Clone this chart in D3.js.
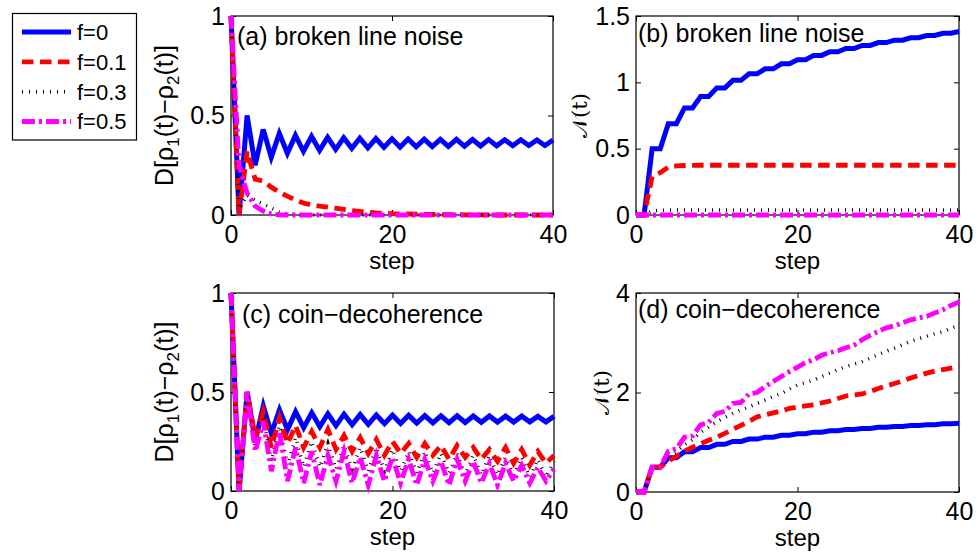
<!DOCTYPE html>
<html>
<head>
<meta charset="utf-8">
<script src="https://cdn.jsdelivr.net/npm/d3@7"></script>
<style>
body { margin: 0; background: #fff; }
svg { display: block; font-family: "Liberation Sans", Arial, sans-serif; }
</style>
</head>
<body>
<div id="chart"></div>
<script>
// step axis, shared by all four panels
const steps = [0, 1, 2, 3, 4, 5, 6, 7, 8, 9, 10, 11, 12, 13, 14, 15, 16, 17, 18, 19, 20,
  21, 22, 23, 24, 25, 26, 27, 28, 29, 30, 31, 32, 33, 34, 35, 36, 37, 38, 39, 40]
const legendNames = ['f=0', 'f=0.1', 'f=0.3', 'f=0.5']

// f=0 is the same (noise free) walk in both rows
const cleanD = [1, 0, 0.5, 0.25, 0.43, 0.29, 0.41, 0.31, 0.4, 0.32, 0.395, 0.325, 0.39, 0.33, 0.388, 0.335,
  0.386, 0.337, 0.384, 0.34, 0.383, 0.341, 0.382, 0.343, 0.381, 0.344, 0.38, 0.345, 0.38, 0.346,
  0.379, 0.347, 0.379, 0.348, 0.378, 0.348, 0.378, 0.349, 0.377, 0.349, 0.377]
const cleanN = [0, 0, 0.5, 0.5, 0.688, 0.688, 0.807, 0.807, 0.893, 0.893, 0.958, 0.958, 1.015, 1.015,
  1.064, 1.064, 1.102, 1.102, 1.14, 1.14, 1.17, 1.17, 1.203, 1.203, 1.23, 1.23, 1.255, 1.255,
  1.278, 1.278, 1.3, 1.3, 1.318, 1.318, 1.336, 1.336, 1.353, 1.353, 1.37, 1.37, 1.383]

// (a) broken line noise, trace distance
const blnD01 = [1, 0, 0.32, 0.18, 0.17, 0.14, 0.115, 0.095, 0.075, 0.06, 0.05, 0.045, 0.04, 0.034, 0.028,
  0.022, 0.018, 0.014, 0.011, 0.009, 0.007, 0.006, 0.005, 0.004, 0.003, 0.003, 0.002, 0.002, 0.002,
  0.001, 0.001, 0.001, 0.001, 0, 0, 0, 0, 0, 0, 0, 0]
const blnD03 = [1, 0.03, 0.1, 0.075, 0.055, 0.035, 0.015, 0.006, 0.002, 0.001, 0, 0, 0, 0, 0, 0, 0, 0, 0, 0,
  0, 0, 0, 0, 0, 0, 0, 0, 0, 0, 0, 0, 0, 0, 0, 0, 0, 0, 0, 0, 0]
const blnD05 = [1, 0.25, 0.11, 0.045, 0.02, 0.005, 0.001, 0, 0, 0, 0, 0, 0, 0, 0, 0, 0, 0, 0, 0,
  0, 0, 0, 0, 0, 0, 0, 0, 0, 0, 0, 0, 0, 0, 0, 0, 0, 0, 0, 0, 0]

// (b) broken line noise, non-Markovianity measure
const blnN01 = [0, 0, 0.29, 0.32, 0.36, 0.37, 0.373, 0.374, 0.375, 0.375, 0.375, 0.375, 0.375, 0.375,
  0.375, 0.375, 0.375, 0.375, 0.375, 0.375, 0.375, 0.375, 0.375, 0.375, 0.375, 0.375, 0.375, 0.375,
  0.375, 0.375, 0.375, 0.375, 0.375, 0.375, 0.375, 0.375, 0.375, 0.375, 0.375, 0.375, 0.375]
const blnN03 = [0, 0, 0.03, 0.035, 0.037, 0.038, 0.038, 0.038, 0.038, 0.038, 0.038, 0.038, 0.038, 0.038,
  0.038, 0.038, 0.038, 0.038, 0.038, 0.038, 0.038, 0.038, 0.038, 0.038, 0.038, 0.038, 0.038, 0.038,
  0.038, 0.038, 0.038, 0.038, 0.038, 0.038, 0.038, 0.038, 0.038, 0.038, 0.038, 0.038, 0.038]
const blnN05 = [0, 0, 0, 0, 0, 0, 0, 0, 0, 0, 0, 0, 0, 0, 0, 0, 0, 0, 0, 0,
  0, 0, 0, 0, 0, 0, 0, 0, 0, 0, 0, 0, 0, 0, 0, 0, 0, 0, 0, 0, 0]

// (c) coin decoherence, trace distance
const cdD01 = [1, 0, 0.5, 0.27, 0.4, 0.22, 0.37, 0.24, 0.33, 0.22, 0.3, 0.22, 0.31, 0.21, 0.28, 0.2,
  0.27, 0.19, 0.26, 0.18, 0.25, 0.19, 0.24, 0.17, 0.24, 0.18, 0.23, 0.16, 0.23, 0.17, 0.22,
  0.16, 0.21, 0.15, 0.22, 0.14, 0.21, 0.13, 0.2, 0.14, 0.18]
const cdD03 = [1, 0, 0.5, 0.22, 0.37, 0.15, 0.33, 0.13, 0.27, 0.12, 0.25, 0.12, 0.24, 0.11, 0.23, 0.11,
  0.22, 0.1, 0.22, 0.1, 0.21, 0.1, 0.2, 0.09, 0.2, 0.09, 0.19, 0.09, 0.19, 0.08, 0.18,
  0.08, 0.18, 0.08, 0.17, 0.08, 0.17, 0.07, 0.16, 0.07, 0.15]
const cdD05 = [1, 0, 0.5, 0.2, 0.35, 0.1, 0.3, 0.05, 0.22, 0.04, 0.2, 0.03, 0.18, 0.05, 0.2, 0.04,
  0.17, 0.03, 0.18, 0.05, 0.17, 0.04, 0.16, 0.03, 0.16, 0.05, 0.15, 0.03, 0.16, 0.05, 0.15,
  0.04, 0.14, 0.03, 0.14, 0.05, 0.13, 0.04, 0.12, 0.05, 0.11]

// (d) coin decoherence, non-Markovianity measure
const cdN01 = [0, 0, 0.5, 0.5, 0.62, 0.72, 0.82, 0.9, 0.97, 1.04, 1.1, 1.18, 1.26, 1.34, 1.42, 1.51,
  1.55, 1.59, 1.63, 1.68, 1.71, 1.73, 1.75, 1.79, 1.83, 1.88, 1.93, 1.95, 1.97, 2.02, 2.08,
  2.13, 2.18, 2.23, 2.29, 2.34, 2.39, 2.43, 2.46, 2.49, 2.52]
const cdN03 = [0, 0, 0.5, 0.5, 0.72, 0.8, 0.95, 1.05, 1.2, 1.3, 1.41, 1.5, 1.58, 1.65, 1.71, 1.78,
  1.85, 1.92, 1.98, 2.07, 2.15, 2.2, 2.25, 2.32, 2.39, 2.46, 2.52, 2.57, 2.62, 2.69, 2.76,
  2.83, 2.89, 2.96, 3.03, 3.08, 3.13, 3.18, 3.22, 3.29, 3.35]
const cdN05 = [0, 0, 0.5, 0.5, 0.82, 0.87, 1.1, 1.13, 1.35, 1.4, 1.58, 1.62, 1.78, 1.8, 1.97, 2.0,
  2.12, 2.22, 2.32, 2.42, 2.51, 2.6, 2.66, 2.75, 2.8, 2.84, 2.9, 2.95, 3.06, 3.15, 3.23,
  3.3, 3.34, 3.4, 3.46, 3.5, 3.53, 3.6, 3.66, 3.75, 3.82]

const xTicks = [0, 20, 40]

const width = 979
const height = 554
const fontSize = 25

const svg = d3.select('#chart')
  .append('svg')
  .attr('width', width)
  .attr('height', height)

svg.append('rect').attr('width', width).attr('height', height).attr('fill', '#fff')

// line looks, in legend order
const looks = [
  { color: '#0000ff', dash: null, w: 5 },
  { color: '#ff0000', dash: '11.5,6.5', w: 4.8 },
  { color: '#000000', dash: '1,6', w: 3.5 },
  { color: '#ff00ff', dash: '13,4,3,4', w: 4.8 }
]

const panels = [
  { left: 231, right: 553, top: 16, bottom: 215, yMax: 1, yTicks: [0, 0.5, 1],
    title: '(a) broken line noise', tx: 237, ty: 45, label: 'D', lx: 173,
    series: [cleanD, blnD01, blnD03, blnD05] },
  { left: 636, right: 959, top: 16, bottom: 215, yMax: 1.5, yTicks: [0, 0.5, 1, 1.5],
    title: '(b) broken line noise', tx: 638, ty: 42, label: 'N', lx: 587,
    series: [cleanN, blnN01, blnN03, blnN05] },
  { left: 231, right: 554, top: 293, bottom: 491, yMax: 1, yTicks: [0, 0.5, 1],
    title: '(c) coin\u2212decoherence', tx: 242, ty: 323, label: 'D', lx: 173,
    series: [cleanD, cdD01, cdD03, cdD05] },
  { left: 636, right: 959, top: 293, bottom: 492, yMax: 4, yTicks: [0, 2, 4],
    title: '(d) coin\u2212decoherence', tx: 638, ty: 318, label: 'N', lx: 609,
    series: [cleanN, cdN01, cdN03, cdN05] }
]

panels.forEach(p => {
  const g = svg.append('g')

  const x = d3.scaleLinear().domain([0, 40]).range([p.left, p.right])
  const y = d3.scaleLinear().domain([0, p.yMax]).range([p.bottom, p.top])

  // axes with inward ticks, MATLAB style
  g.append('g')
    .attr('transform', `translate(0,${p.bottom})`)
    .call(d3.axisBottom(x).tickValues(xTicks).tickSizeInner(-5).tickSizeOuter(0).tickPadding(10))
  g.append('g')
    .attr('transform', `translate(0,${p.top})`)
    .call(d3.axisTop(x).tickValues(xTicks).tickSizeInner(-5).tickSizeOuter(0).tickFormat(''))
  g.append('g')
    .attr('transform', `translate(${p.left},0)`)
    .call(d3.axisLeft(y).tickValues(p.yTicks).tickFormat(d3.format('~g'))
      .tickSizeInner(-5).tickSizeOuter(0).tickPadding(6))
  g.append('g')
    .attr('transform', `translate(${p.right},0)`)
    .call(d3.axisRight(y).tickValues(p.yTicks).tickSizeInner(-5).tickSizeOuter(0).tickFormat(''))

  g.selectAll('.domain').remove()
  g.selectAll('.tick line').attr('stroke', '#000')
  g.selectAll('.tick text')
    .attr('font-size', fontSize)
    .attr('font-family', '"Liberation Sans", Arial, sans-serif')
    .attr('fill', '#000')

  g.append('rect')
    .attr('x', p.left).attr('y', p.top)
    .attr('width', p.right - p.left).attr('height', p.bottom - p.top)
    .attr('fill', 'none').attr('stroke', '#000').attr('stroke-width', 1.2)

  const line = d3.line()
    .x((d, i) => x(steps[i]))
    .y(d => y(d))

  p.series.forEach((s, k) => {
    g.append('path')
      .datum(s)
      .attr('d', line)
      .attr('fill', 'none')
      .attr('stroke', looks[k].color)
      .attr('stroke-width', looks[k].w)
      .attr('stroke-dasharray', looks[k].dash)
  })

  g.append('text')
    .attr('x', p.tx).attr('y', p.ty)
    .attr('font-size', fontSize)
    .text(p.title)

  g.append('text')
    .attr('x', (p.left + p.right) / 2).attr('y', p.bottom + 54)
    .attr('text-anchor', 'middle')
    .attr('font-size', 24)
    .text('step')

  const cy = (p.top + p.bottom) / 2
  const lab = g.append('text')
    .attr('transform', `translate(${p.lx},${cy}) rotate(-90)`)
    .attr('text-anchor', 'middle')
    .attr('font-size', fontSize)
  if (p.label === 'D') {
    lab.append('tspan').text('D[\u03c1')
    lab.append('tspan').attr('dy', 6).attr('font-size', 17).text('1')
    lab.append('tspan').attr('dy', -6).text('(t)\u2212\u03c1')
    lab.append('tspan').attr('dy', 6).attr('font-size', 17).text('2')
    lab.append('tspan').attr('dy', -6).text('(t)]')
  } else {
    lab.attr('font-size', 21)
    lab.append('tspan').text('\ud835\udca9').attr('font-family', '"DejaVu Serif", "DejaVu Sans", serif')
    lab.append('tspan').attr('font-family', '"DejaVu Serif", serif').text('(t)')
  }
})

// legend
const legend = svg.append('g')
legend.append('rect')
  .attr('x', 12.5).attr('y', 13.5).attr('width', 124).attr('height', 126.5)
  .attr('fill', '#fff').attr('stroke', '#000').attr('stroke-width', 1.2)

const rowY = d3.scalePoint().domain(legendNames).range([32, 121.5])
legendNames.forEach((name, k) => {
  legend.append('line')
    .attr('x1', 22).attr('x2', 71)
    .attr('y1', rowY(name)).attr('y2', rowY(name))
    .attr('stroke', looks[k].color)
    .attr('stroke-width', looks[k].w)
    .attr('stroke-dasharray', looks[k].dash)
  legend.append('text')
    .attr('x', 77).attr('y', rowY(name))
    .attr('dy', '0.36em')
    .attr('font-size', 22)
    .text(name)
})
</script>
</body>
</html>
